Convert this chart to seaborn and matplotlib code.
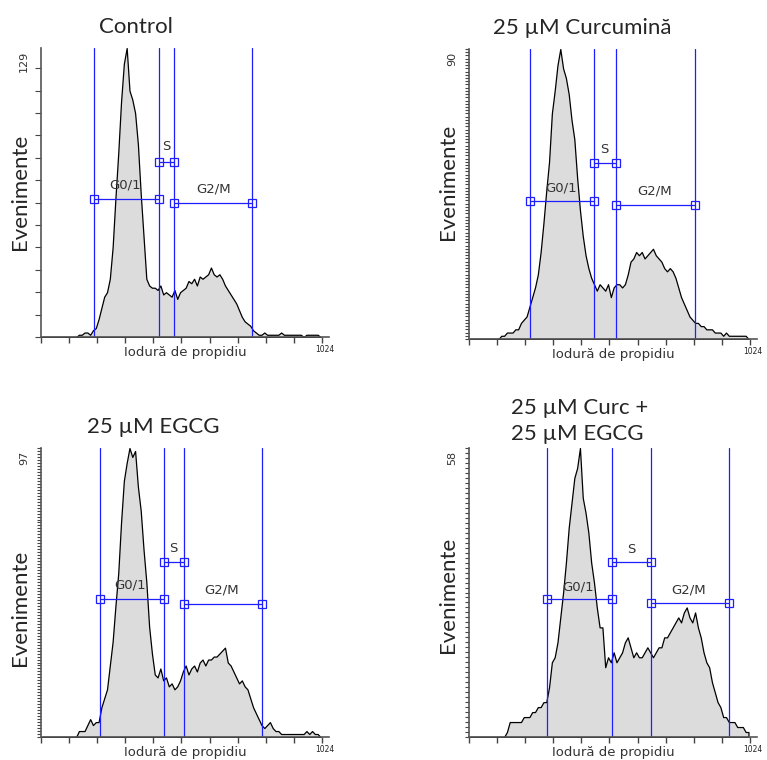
import numpy as np
import pandas as pd
import seaborn as sns
import matplotlib.pyplot as plt

sns.set_style('ticks')
plt.rcParams['font.family'] = ['DejaVu Sans']

# histogram counts, 100 channels of width 10.24 (0..1024)

edges = np.linspace(0, 1024, 101)

control = [0]*13 + [1, 1, 2, 2, 1, 3, 4,
    8, 13, 18, 20, 26, 40, 62, 82, 105, 122,
    129, 110, 106, 100, 86, 64, 45, 26, 23, 22,
    22, 21, 23, 19, 20, 19, 18, 21, 17, 20,
    21, 22, 25, 24, 26, 23, 27, 26, 27, 28,
    31, 28, 27, 28, 26, 23, 21, 19, 17, 15,
    12, 9, 7, 6, 5, 3, 2, 1, 1, 2,
    1, 1, 1, 1, 1, 2, 1, 1, 1, 1,
    1, 1, 1, 0, 1, 1, 1, 1, 1, 0]

curcumina = [0]*11 + [1, 1, 2, 2, 2, 3, 3, 5, 6,
    7, 10, 13, 16, 20, 27, 36, 46, 55, 70,
    77, 85, 90, 84, 81, 76, 68, 62, 50, 40,
    32, 26, 22, 19, 17, 15, 17, 16, 15, 17,
    13, 16, 17, 17, 16, 17, 20, 24, 25, 27,
    26, 27, 25, 26, 27, 28, 26, 25, 24, 22,
    21, 22, 21, 19, 16, 13, 11, 9, 7, 6,
    5, 5, 4, 4, 3, 3, 3, 2, 2, 2,
    1, 2, 1, 1, 1, 1, 1, 1, 1, 0]

egcg = [0]*13 + [2, 2, 2, 4, 6, 4, 5,
    5, 10, 13, 16, 24, 32, 44, 55, 72, 86,
    92, 97, 94, 96, 84, 76, 63, 52, 37, 28,
    21, 20, 23, 19, 20, 17, 18, 16, 17, 19,
    22, 24, 21, 23, 24, 22, 25, 26, 24, 26,
    26, 27, 27, 28, 29, 30, 25, 24, 22, 20,
    18, 19, 17, 16, 13, 10, 8, 6, 4, 3,
    4, 5, 3, 2, 2, 1, 1, 1, 1, 1,
    1, 1, 1, 1, 2, 1, 2, 1, 1, 0]

combinat = [0]*13 + [1, 3, 3, 3, 3, 3, 4,
    4, 4, 5, 5, 6, 6, 7, 7, 10, 15,
    16, 19, 24, 29, 35, 42, 47, 52, 54, 58,
    48, 45, 41, 35, 31, 26, 22, 22, 14, 16,
    15, 17, 15, 16, 17, 19, 20, 18, 16, 17,
    16, 16, 17, 18, 17, 16, 17, 18, 18, 20,
    20, 21, 22, 23, 24, 23, 25, 26, 24, 23,
    25, 22, 20, 17, 15, 14, 11, 9, 7, 6,
    4, 4, 3, 3, 3, 2, 2, 2, 1, 1]

titles = ['Control', '25 µM Curcumină', '25 µM EGCG', '25 µM Curc +\n25 µM EGCG']
ymax = [129, 90, 97, 58]
ystep = [10, 1, 1, 1]

# gate boundaries (channel) and bar heights
gate_bounds = [[195, 430, 484, 771], [221, 456, 536, 823], [214, 450, 520, 807], [286, 522, 662, 947]]
gate_y = [[61.4, 78, 59.8], [42.9, 54.6, 41.5], [46.2, 58.6, 44.8], [27.6, 35.1, 26.8]]
gate_names = ['G0/1', 'S', 'G2/M']
label_x = [[306, 458, 629], [337, 495, 677], [325, 483, 659], [398, 592, 799]]
label_y = [[68, 85, 66], [47, 58.7, 46], [51, 63.3, 49.5], [30.2, 37.7, 29.5]]

counts = [control, curcumina, egcg, combinat]

W, H = 767, 760
fig = plt.figure(figsize=(W/100, H/100), dpi=100)

# axes boxes in pixels: left, top, right, bottom
boxes = [(41, 48, 329, 337), (469, 49, 757, 339), (41, 448, 329, 737), (469, 448, 757, 737)]
title_pos = [(136, 27), (582, 28), (153, 427), (580, 421)]
ylab_y = [192, 182, 608, 595]

blue = '#1e1eff'

for k in range(4):
    l, t, r, b = boxes[k]
    ax = fig.add_axes([l/W, 1-b/H, (r-l)/W, (b-t)/H])
    df = pd.DataFrame({'canal': (edges[:-1]+edges[1:])/2, 'evenimente': counts[k]})
    sns.histplot(data=df, x='canal', weights='evenimente', binwidth=10.24, binrange=(0, 1024),
                 element='poly', fill=True, color='#dcdcdc', alpha=1, edgecolor='black',
                 linewidth=0.9, ax=ax)
    ax.set_xlim(0, 1050)
    ax.set_ylim(0, ymax[k])
    ax.set_xticks(np.arange(11)*102.4)
    ax.set_xticklabels([])
    ax.set_yticks(np.arange(0, ymax[k]+1, ystep[k]))
    ax.set_yticklabels([])
    ax.tick_params(axis='x', length=4, width=1, color='#444')
    ax.tick_params(axis='y', length=3 if ystep[k] == 1 else 4, width=0.8, color='#444')
    sns.despine(ax=ax)
    for s in ['left', 'bottom']:
        ax.spines[s].set_color('#555')
        ax.spines[s].set_linewidth(1.2)

    # gates
    gb = gate_bounds[k]
    for g in gb:
        ax.axvline(g, color=blue, lw=0.9)
    spans = [(gb[0], gb[1]), (gb[1], gb[2]), (gb[2], gb[3])]
    for j in range(3):
        ax.plot(spans[j], [gate_y[k][j]]*2, color=blue, lw=0.9, marker='s', ms=6,
                mfc='none', mec=blue, mew=0.9)
        ax.text(label_x[k][j], label_y[k][j], gate_names[j], ha='center', va='center',
                fontsize=9.5, color='#333')

    ax.set_xlabel('Iodură de propidiu', fontsize=9.5, color='#333', labelpad=-1)
    ax.set_ylabel('Evenimente', fontsize=16, family=['Lato', 'DejaVu Sans'])
    ax.yaxis.set_label_coords(-11/(r-l), (b-ylab_y[k])/(b-t))
    ax.annotate(str(ymax[k]), xy=(0, ymax[k]), xycoords=('axes fraction', 'data'),
                xytext=(-17, -3), textcoords='offset pixels', rotation=90,
                ha='center', va='top', fontsize=8, color='#333')
    ax.annotate('1024', xy=(1024, 0), xycoords='data', xytext=(3, -13),
                textcoords='offset pixels', ha='center', va='center', fontsize=5.5, color='#222')

    tx, ty = title_pos[k]
    fig.text(tx/W, 1-ty/H, titles[k], ha='center', va='center', multialignment='left',
             fontsize=16, family=['Lato', 'DejaVu Sans'], linespacing=1.4)

fig.savefig('out.png', dpi=100)
